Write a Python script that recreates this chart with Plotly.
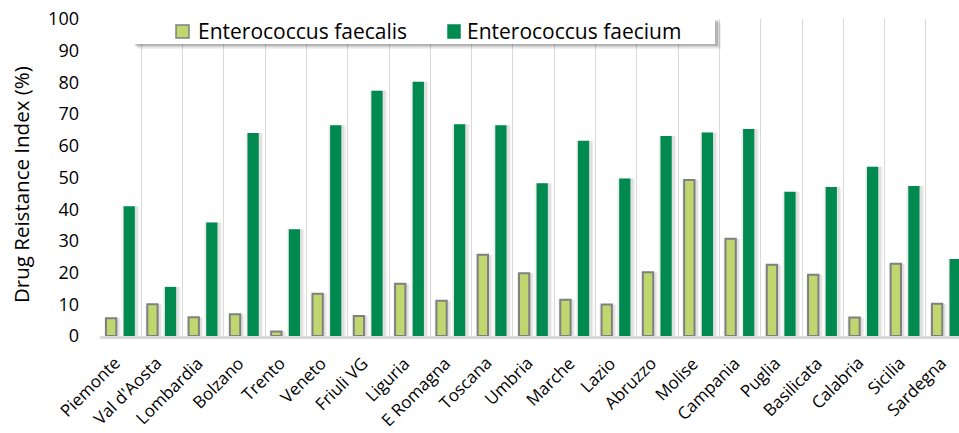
import plotly.graph_objects as go

regions = [
    "Piemonte", "Val d'Aosta", "Lombardia", "Bolzano", "Trento", "Veneto",
    "Friuli VG", "Liguria", "E Romagna", "Toscana", "Umbria", "Marche",
    "Lazio", "Abruzzo", "Molise", "Campania", "Puglia", "Basilicata",
    "Calabria", "Sicilia", "Sardegna",
]
faecalis = [5.6, 10.0, 5.9, 6.9, 1.4, 13.3, 6.3, 16.5, 11.1, 25.6, 19.8,
            11.4, 9.9, 20.1, 49.2, 30.7, 22.5, 19.3, 5.8, 22.8, 10.2]
faecium = [40.9, 15.5, 35.8, 64.0, 33.7, 66.5, 77.4, 80.2, 66.8, 66.5, 48.2,
           61.6, 49.7, 63.1, 64.2, 65.3, 45.5, 47.0, 53.4, 47.3, 24.3]
y_ticks = [0, 10, 20, 30, 40, 50, 60, 70, 80, 90, 100]
series_names = ["Enterococcus faecalis", "Enterococcus faecium"]

FONT = "Open Sans"
LIGHT = "#BFD76E"
DARK = "#008A4F"

W, H = 959, 433
L, T, B = 100, 19, 97
PW, PH = W - L, H - T - B


def px(x):
    return (x - L) / PW


def py(y):
    return (H - B - y) / PH


# (values, name, fill, outline, bar offset, bar width) in category units
series = [
    (faecalis, series_names[0], LIGHT, "#808080", -0.355, 0.25, 2),
    (faecium, series_names[1], DARK, DARK, 0.072, 0.272, 0),
]

fig = go.Figure()
# soft drop shadow behind each bar
for vals, name, fc, lc, off, wd, lw in series:
    for extra, alpha in [(0.16, 0.05), (0.09, 0.07)]:
        fig.add_trace(
            go.Bar(
                x=regions, y=vals, offset=off - extra / 2 + 0.03, width=wd + extra,
                marker=dict(color=f"rgba(0,0,0,{alpha})", line=dict(width=0)),
                hoverinfo="skip", showlegend=False,
            )
        )
for vals, name, fc, lc, off, wd, lw in series:
    fig.add_trace(
        go.Bar(
            name=name, x=regions, y=vals, offset=off, width=wd,
            marker=dict(color=fc, line=dict(color=lc, width=lw)),
        )
    )

# x labels as rotated annotations so the text end sits on the category centre
for r in regions:
    fig.add_annotation(
        x=r, xref="x", y=0, yref="paper",
        text=r, showarrow=False, textangle=-45,
        xanchor="right", yanchor="top", xshift=7, yshift=-13,
        font=dict(size=17, family=FONT, color="black"),
    )

# y axis title
fig.add_annotation(
    x=px(21), y=py(185), xref="paper", yref="paper",
    text="Drug Reistance Index (%)", showarrow=False, textangle=-90,
    xanchor="center", yanchor="middle",
    font=dict(size=20.5, family=FONT, color="black"),
)

# legend box drawn by hand (with a soft shadow)
for i, a in enumerate([0.06, 0.1, 0.16]):
    d = 5 - i * 1.5
    fig.add_shape(
        type="rect", xref="paper", yref="paper", layer="above",
        x0=px(133 + d), x1=px(716 + d), y0=py(44 + d), y1=py(18 + d),
        fillcolor=f"rgba(0,0,0,{a})", line=dict(width=0),
    )
fig.add_shape(
    type="rect", xref="paper", yref="paper", layer="above",
    x0=px(132), x1=px(715), y0=py(44), y1=py(17),
    fillcolor="white", line=dict(width=0),
)
legend_sym = [(176, 189, LIGHT, "#808080"), (448, 460, DARK, DARK)]
legend_txt = [196, 465]
for (x0, x1, fc, lc), tx, name in zip(legend_sym, legend_txt, series_names):
    fig.add_shape(
        type="rect", xref="paper", yref="paper", layer="above",
        x0=px(x0), x1=px(x1), y0=py(38), y1=py(25),
        fillcolor=fc, line=dict(color=lc, width=1.5),
    )
    fig.add_annotation(
        x=px(tx), y=py(31), xref="paper", yref="paper",
        text=name, showarrow=False, xanchor="left", yanchor="middle",
        font=dict(size=21, family=FONT, color="black"),
    )

fig.update_layout(
    width=W,
    height=H,
    margin=dict(l=L, r=0, t=T, b=B, autoexpand=False),
    paper_bgcolor="white",
    plot_bgcolor="white",
    barmode="overlay",
    font=dict(family=FONT, color="black"),
    showlegend=False,
)

fig.update_xaxes(
    range=[-0.5, 20.3],
    automargin=False,
    tickson="boundaries",
    showgrid=True,
    gridcolor="#D9D9D9",
    gridwidth=1,
    showline=True,
    linecolor="#D9D9D9",
    linewidth=3,
    ticks="",
    showticklabels=False,
)
fig.update_yaxes(
    range=[0, 100],
    automargin=False,
    tickvals=y_ticks,
    showgrid=False,
    zeroline=False,
    showline=False,
    ticks="",
    tickfont=dict(size=18, family=FONT),
    ticklabelstandoff=20,
    ticklabeloverflow="allow",
)

# drop the default 8px page margin so the figure fills the window exactly
fig.write_html(
    "out.html",
    config={"displayModeBar": False},
    post_script="document.body.style.margin='0';document.body.style.overflow='hidden';",
)
